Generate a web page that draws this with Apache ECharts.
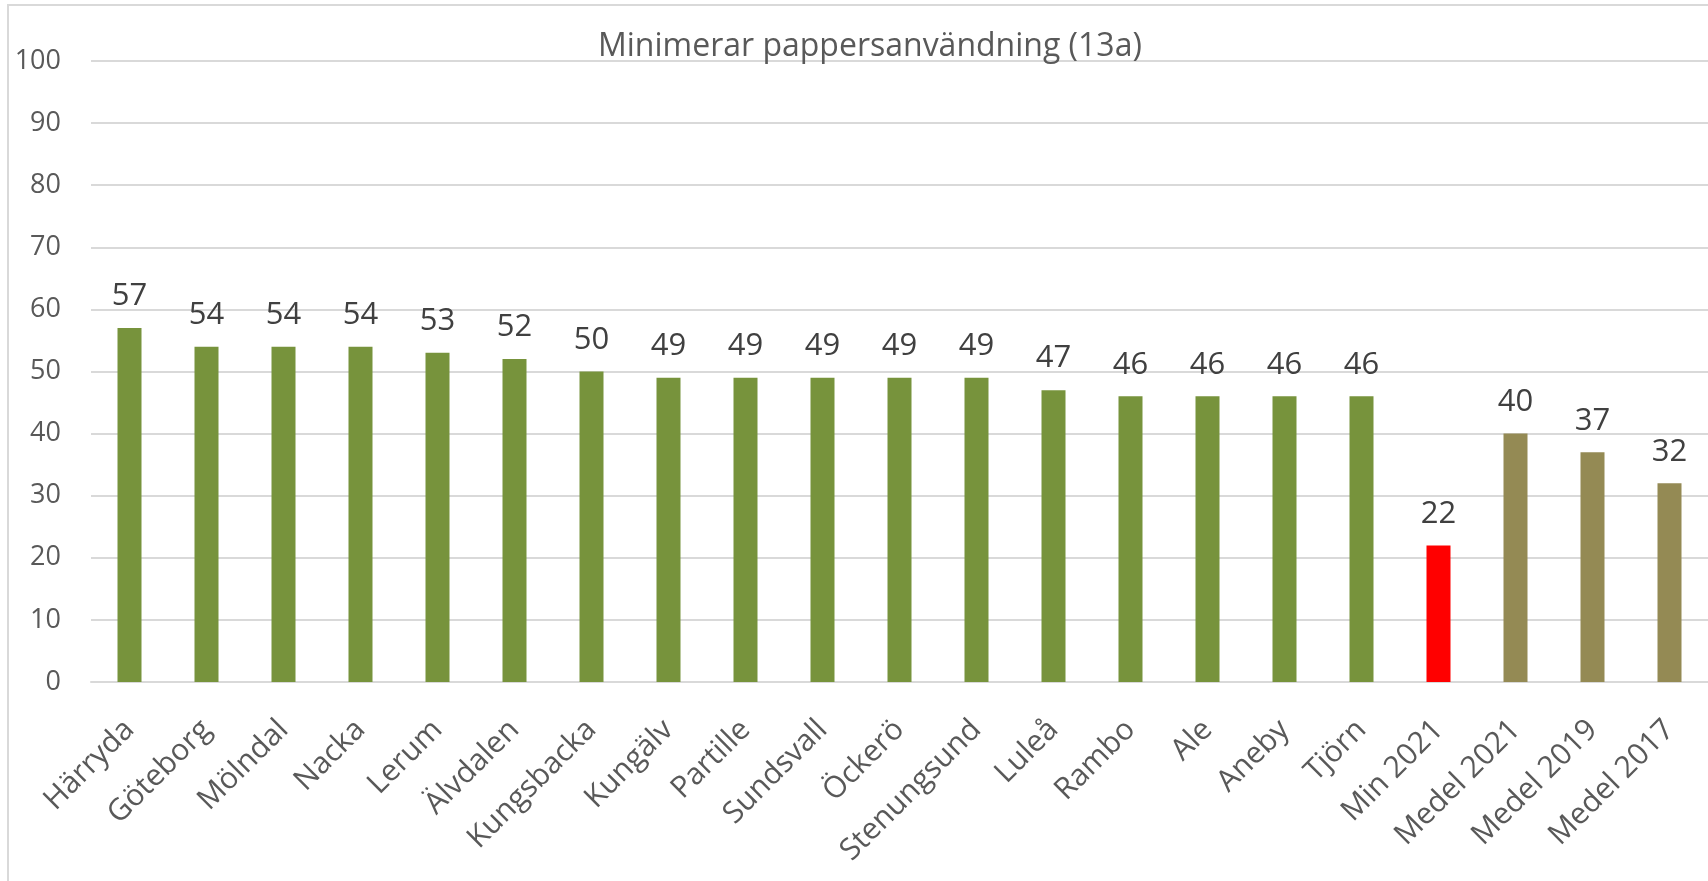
<!DOCTYPE html>
<html>
<head>
    <meta charset="UTF-8">
    <script src="https://cdn.jsdelivr.net/npm/echarts@6/dist/echarts.min.js"></script>
    <title>Minimerar pappersanvändning</title>
    <style>
        html, body { margin: 0; padding: 0; background: #fff; overflow: hidden; }
        #frame { position: absolute; left: 7px; top: 4px; width: 1760px; height: 940px; border: 2px solid #d9d9d9; }
        #chart { position: absolute; left: 0; top: 0; width: 1708px; height: 881px; }
    </style>
</head>
<body>
<div id="frame"></div>
<div id="chart"></div>
<script>
    var categories = ['Härryda', 'Göteborg', 'Mölndal', 'Nacka', 'Lerum', 'Älvdalen', 'Kungsbacka',
        'Kungälv', 'Partille', 'Sundsvall', 'Öckerö', 'Stenungsund', 'Luleå', 'Rambo', 'Ale',
        'Aneby', 'Tjörn', 'Min 2021', 'Medel 2021', 'Medel 2019', 'Medel 2017'];
    var values = [57, 54, 54, 54, 53, 52, 50, 49, 49, 49, 49, 49, 47, 46, 46, 46, 46, 22, 40, 37, 32];
    var yTicks = [0, 10, 20, 30, 40, 50, 60, 70, 80, 90, 100];

    // Excel-liknande färger: kommuner grön, min röd, medel oliv
    function barColor(name) {
        if (name.indexOf('Min') === 0) return '#ff0000';
        if (name.indexOf('Medel') === 0) return '#948a54';
        return '#77933c';
    }

    var font = '"Open Sans", Lato, sans-serif';
    var chart = echarts.init(document.getElementById('chart'));
    chart.setOption({
        animation: false,
        title: {
            text: 'Minimerar pappersanvändning (13a)',
            left: 593,
            top: 26,
            textStyle: { fontFamily: font, fontSize: 32, fontWeight: 'normal', color: '#595959' }
        },
        grid: { left: 91, right: -19, top: 61, bottom: 199, containLabel: false },
        xAxis: {
            type: 'category',
            data: categories,
            axisLine: { lineStyle: { color: '#d9d9d9', width: 2 } },
            axisTick: { show: false },
            axisLabel: {
                interval: 0,
                rotate: 45,
                margin: 43,
                fontFamily: font,
                fontSize: 30,
                color: '#595959'
            }
        },
        yAxis: {
            type: 'value',
            min: yTicks[0],
            max: yTicks[yTicks.length - 1],
            interval: 10,
            axisLine: { show: false },
            axisTick: { show: false },
            axisLabel: { margin: 30, fontFamily: font, fontSize: 27, color: '#595959' },
            splitLine: { lineStyle: { color: '#d9d9d9', width: 2 } }
        },
        series: [{
            type: 'bar',
            barWidth: 24,
            data: values.map(function (v, i) {
                return { value: v, itemStyle: { color: barColor(categories[i]) } };
            }),
            label: {
                show: true,
                position: 'top',
                distance: 16,
                fontFamily: font,
                fontSize: 31,
                color: '#404040'
            }
        }]
    });
</script>
</body>
</html>
